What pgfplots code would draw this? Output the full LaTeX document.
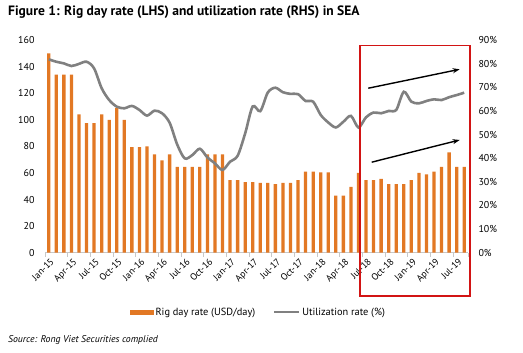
\documentclass[border=0pt]{standalone}
\usepackage{pgfplots}
\pgfplotsset{compat=1.18}
\usetikzlibrary{arrows.meta}
\usepackage{fontspec}
\setmainfont{PT Sans}
\definecolor{barorange}{RGB}{226,120,36}
\definecolor{linegray}{RGB}{128,128,128}
\definecolor{boxred}{RGB}{210,20,20}
\definecolor{axisgray}{RGB}{200,200,200}
\pgfplotstableread{
m rate util
1 150 81.8
2 134 80.8
3 134 80.1
4 134 79.0
5 104 79.9
6 97.5 80.8
7 97.5 78.0
8 104 69.6
9 100 64.6
10 109 61.8
11 100 61.1
12 79.5 62.1
13 79.5 60.4
14 80 58.0
15 74 60.1
16 69.5 59.0
17 74 55.0
18 64.5 45.8
19 64.5 39.9
20 64.5 41.3
21 64.5 44.0
22 74 40.3
23 74 37.8
24 74 35.0
25 54.5 38.5
26 54.5 41.0
27 53 50.5
28 53 61.9
29 52.5 59.9
30 52.5 67.8
31 51.5 69.8
32 52.5 67.9
33 52.5 67.2
34 54.5 67.1
35 61 64.2
36 61 63.9
37 60.5 58.3
38 60.5 55.1
39 43 53.0
40 43 55.4
41 49.5 57.9
42 60 53.0
43 54.5 57.3
44 54.5 59.3
45 55.5 59.0
46 51.5 60.0
47 51.5 60.4
48 51.5 68.1
49 54.5 63.9
50 60 63.2
51 59 64.2
52 61 64.9
53 64.5 64.6
54 75.5 65.8
55 64.5 66.7
56 64.5 67.7
}\datatable
\begin{document}
\begin{tikzpicture}
\path[use as bounding box] (0,0) rectangle (523bp,353bp);
\node[anchor=west,inner sep=0pt,font=\bfseries\fontsize{13.6}{15}\selectfont] at (8bp,341bp) {Figure 1: Rig day rate (LHS) and utilization rate (RHS) in SEA};
\node[anchor=west,inner sep=0pt,font=\itshape\fontsize{9.8}{11}\selectfont] at (8bp,13bp) {Source: Rong Viet Securities complied};
\begin{axis}[
  at={(45bp,100.3bp)}, anchor=south west,
  width=423bp, height=212.7bp, scale only axis,
  xmin=0.5, xmax=56.5, ymin=0, ymax=160,
  axis x line*=bottom, axis y line*=left,
  x axis line style={draw=axisgray, line width=0.6pt},
  y axis line style={draw=none},
  ytick={0,20,...,160}, ytick style={draw=none},
  yticklabel style={font=\fontsize{10}{12}\selectfont, xshift=-3bp},
  xtick={0.5,3.5,...,54.5,56.5},
  xticklabels={Jan-15,Apr-15,Jul-15,Oct-15,Jan-16,Apr-16,Jul-16,Oct-16,Jan-17,Apr-17,Jul-17,Oct-17,Jan-18,Apr-18,Jul-18,Oct-18,Jan-19,Apr-19,Jul-19,{}},
  xticklabel style={rotate=45, anchor=north east, font=\fontsize{9.5}{11}\selectfont, inner sep=1pt, yshift=-3bp, xshift=3.78bp},
  major tick length=4bp, tick align=outside,
  x tick style={draw=axisgray, line width=0.6pt},
  /pgf/number format/assume math mode=true,
]
\addplot[ybar, bar width=3.3bp, fill=barorange, draw=none] table[x=m, y=rate] {\datatable};
\end{axis}
\begin{axis}[
  at={(45bp,100.3bp)}, anchor=south west,
  width=423bp, height=212.7bp, scale only axis,
  xmin=0.5, xmax=56.5, ymin=0, ymax=90,
  axis x line=none, axis y line*=right,
  y axis line style={draw=none},
  ytick={0,10,...,90}, ytick style={draw=none},
  yticklabel={\pgfmathprintnumber{\tick}\%},
  yticklabel style={font=\fontsize{10}{12}\selectfont, xshift=7bp},
  /pgf/number format/assume math mode=true,
  clip=false,
  legend columns=2,
  legend style={at={(0.505,-0.28)}, anchor=center, draw=none, fill=none,
    font=\fontsize{10.4}{12}\selectfont, inner sep=0pt,
    /tikz/every even column/.append style={column sep=16bp}},
]
\addlegendimage{legend image code/.code={\fill[barorange] (-4bp,-2.2bp) rectangle (19bp,2.2bp);}}
\addlegendentry{Rig day rate (USD/day)}
\addplot[linegray, line width=2.6bp, smooth, tension=0.5, legend image code/.code={\draw[linegray, line width=2bp] (-6bp,0) -- (19bp,0);}] table[x=m, y=util] {\datatable};
\addlegendentry{Utilization rate (\%)}
\draw[boxred, line width=1.6bp] (axis cs:42.2,87.6) rectangle (axis cs:56.76,-18.3);
\draw[-{Stealth[length=7bp,width=5bp]}, line width=1.4bp, black] (axis cs:43.3,69.6) -- (axis cs:55.4,77.6);
\draw[-{Stealth[length=7bp,width=5bp]}, line width=1.4bp, black] (axis cs:43.75,38.3) -- (axis cs:55.4,47.7);
\end{axis}
\end{tikzpicture}
\end{document}
